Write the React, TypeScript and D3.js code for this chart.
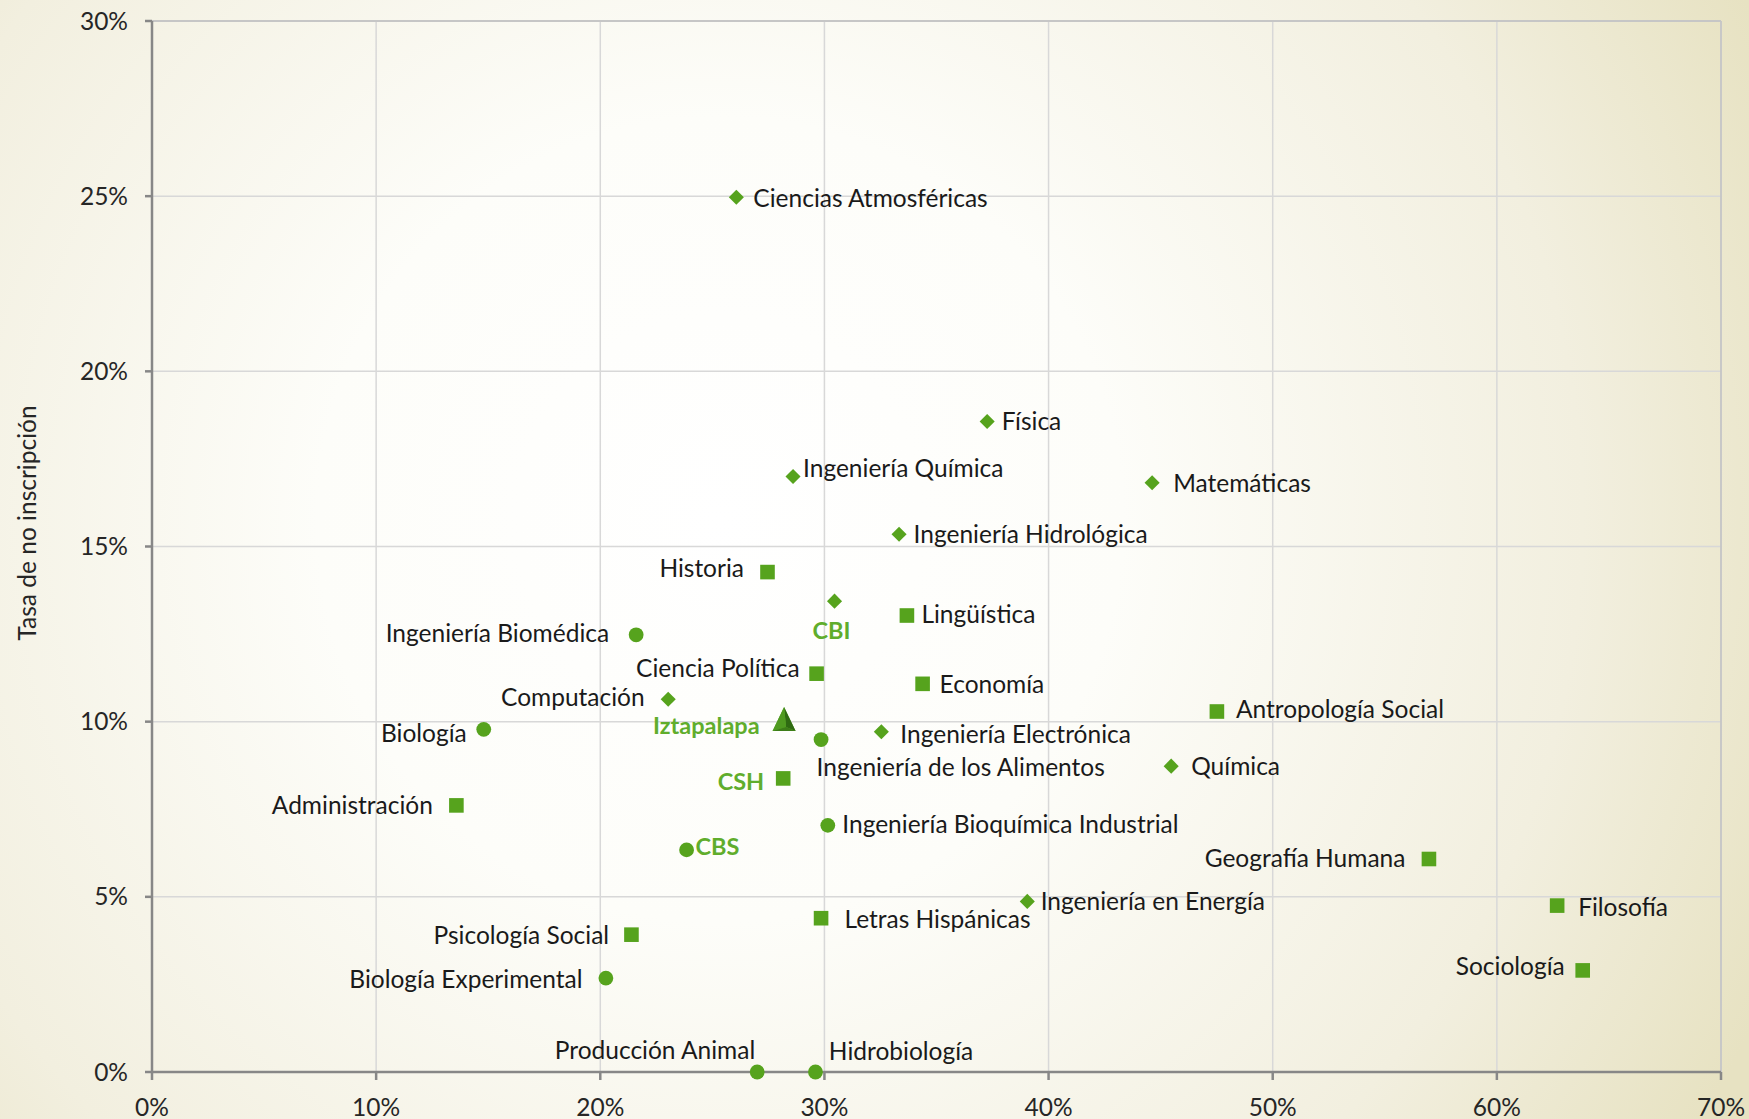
import React from "react";
import * as d3 from "d3";

// ---- Data (percentages) ----
// Circles (CBS)
const circleLabels = [
  "Ingeniería Biomédica", "Biología", "Ingeniería de los Alimentos",
  "Ingeniería Bioquímica Industrial", "CBS", "Biología Experimental",
  "Producción Animal", "Hidrobiología",
];
const circleX = [21.6, 14.8, 29.85, 30.15, 23.85, 20.25, 27.0, 29.6];
const circleY = [12.48, 9.78, 9.49, 7.04, 6.34, 2.68, 0, 0];

// Diamonds (CBI)
const diamondLabels = [
  "Ciencias Atmosféricas", "Física", "Ingeniería Química", "Matemáticas",
  "Ingeniería Hidrológica", "CBI", "Computación", "Ingeniería Electrónica",
  "Química", "Ingeniería en Energía",
];
const diamondX = [26.07, 37.26, 28.6, 44.62, 33.33, 30.45, 23.03, 32.54, 45.47, 39.05];
const diamondY = [24.97, 18.57, 17.0, 16.82, 15.35, 13.44, 10.64, 9.71, 8.73, 4.87];

// Squares (CSH)
const squareLabels = [
  "Historia", "Lingüística", "Ciencia Política", "Economía",
  "Antropología Social", "CSH", "Administración", "Geografía Humana",
  "Filosofía", "Letras Hispánicas", "Psicología Social", "Sociología",
];
const squareX = [27.46, 33.68, 29.65, 34.38, 47.51, 28.16, 13.58, 56.97, 62.69, 29.85, 21.39, 63.83];
const squareY = [14.27, 13.03, 11.37, 11.08, 10.29, 8.38, 7.61, 6.08, 4.75, 4.39, 3.92, 2.9];

// Triangle (Unidad)
const triangleLabels = ["Iztapalapa"];
const triangleX = [28.2];
const triangleY = [10.05];

const divisionLabels = ["CBI", "CSH", "CBS", "Iztapalapa"];

const xTicks = [0, 10, 20, 30, 40, 50, 60, 70];
const yTicks = [0, 5, 10, 15, 20, 25, 30];
const yAxisTitle = "Tasa de no inscripción";

// ---- Label placement (layout only) ----
const labelPlacement: Record<string, [string, number, number]> = {
  "Ciencias Atmosféricas": ["start", 17, 2],
  "Física": ["start", 14.5, 1],
  "Ingeniería Química": ["start", 10, -7],
  "Matemáticas": ["start", 21, 1],
  "Ingeniería Hidrológica": ["start", 14.5, 1],
  "Historia": ["end", -23.5, -3],
  "CBI": ["middle", -3, 30],
  "Lingüística": ["start", 14.5, -1],
  "Ingeniería Biomédica": ["end", -27, -1],
  "Ciencia Política": ["end", -17, -4.5],
  "Economía": ["start", 17, 1],
  "Computación": ["end", -23.5, -1],
  "Antropología Social": ["start", 19, -2],
  "Iztapalapa": ["end", -24.5, 6.5],
  "Biología": ["end", -17, 4.5],
  "Ingeniería Electrónica": ["start", 19, 3.3],
  "Ingeniería de los Alimentos": ["start", -4.5, 28],
  "Química": ["start", 20, 1],
  "CSH": ["end", -19, 4.5],
  "Administración": ["end", -23.5, 1],
  "Ingeniería Bioquímica Industrial": ["start", 14.5, 0],
  "CBS": ["start", 9, -2],
  "Geografía Humana": ["end", -23.5, 0],
  "Ingeniería en Energía": ["start", 13.4, 1],
  "Filosofía": ["start", 21, 2],
  "Letras Hispánicas": ["start", 23.4, 2],
  "Psicología Social": ["end", -22.3, 1],
  "Sociología": ["end", -18, -3.4],
  "Biología Experimental": ["end", -23.4, 2],
  "Producción Animal": ["end", -2, -21],
  "Hidrobiología": ["start", 13.4, -20],
};

const W = 1749;
const H = 1119;
const left = 152, right = 1721, top = 21, bottom = 1072;
const GREEN = "#56a31d";
const DIV_GREEN = "#60ad2c";
const FONT = "Lato, 'Open Sans', sans-serif";
const FS = 24.5;
const LABEL_SHIFT = -1.5;

export default function App() {
  const x = d3.scaleLinear().domain([0, 70]).range([left, right]);
  const y = d3.scaleLinear().domain([0, 30]).range([bottom, top]);

  const fmt = (v: number) => `${v}%`;

  type P = { label: string; x: number; y: number; shape: string };
  const pts: P[] = [];
  circleLabels.forEach((l, i) => pts.push({ label: l, x: circleX[i], y: circleY[i], shape: "circle" }));
  diamondLabels.forEach((l, i) => pts.push({ label: l, x: diamondX[i], y: diamondY[i], shape: "diamond" }));
  squareLabels.forEach((l, i) => pts.push({ label: l, x: squareX[i], y: squareY[i], shape: "square" }));
  triangleLabels.forEach((l, i) => pts.push({ label: l, x: triangleX[i], y: triangleY[i], shape: "triangle" }));

  const diamondPath = d3.symbol().type(d3.symbolDiamond2).size(145)();

  const marker = (p: P) => {
    const cx = x(p.x), cy = y(p.y);
    if (p.shape === "circle") return <circle cx={cx} cy={cy} r={7.4} fill={GREEN} />;
    if (p.shape === "square") return <rect x={cx - 7.3} y={cy - 7.3} width={14.6} height={14.6} fill={GREEN} />;
    if (p.shape === "diamond") return <path d={diamondPath as string} transform={`translate(${cx},${cy})`} fill={GREEN} />;
    return (
      <g transform={`translate(${cx},${cy})`}>
        <path d="M0,-13 L-11.5,11 L11.5,11 Z" fill="#5aa928" />
        <path d="M0,-13 L11.5,11 L2,7 Z" fill="#2f6a12" />
        <path d="M0,-13 L2,7 L-11.5,11 Z" fill="#4f9a20" />
        <path d="M-11.5,11 L2,7 L11.5,11 Z" fill="#3d7d18" />
      </g>
    );
  };

  return (
    <svg width={W} height={H} style={{ position: "absolute", left: 0, top: 0 }} fontFamily={FONT}>
      <defs>
        <radialGradient id="bg" gradientUnits="userSpaceOnUse" cx={720} cy={520} r={1150}>
          <stop offset="0" stopColor="#ffffff" />
          <stop offset="0.35" stopColor="#fdfdf9" />
          <stop offset="0.75" stopColor="#f2efdf" />
          <stop offset="1" stopColor="#e7e2c2" />
        </radialGradient>
      </defs>
      <rect x={0} y={0} width={W} height={H} fill="url(#bg)" />

      {/* gridlines */}
      {xTicks.slice(1).map((t) => (
        <line key={"gx" + t} x1={x(t)} x2={x(t)} y1={top} y2={bottom} stroke="#d8d8d8" strokeWidth={1.5} />
      ))}
      {yTicks.slice(1).map((t) => (
        <line key={"gy" + t} x1={left} x2={right} y1={y(t)} y2={y(t)} stroke="#d8d8d8" strokeWidth={1.5} />
      ))}
      <line x1={left} x2={right} y1={top} y2={top} stroke="#c6c6c6" strokeWidth={1.8} />
      <line x1={right} x2={right} y1={top} y2={bottom} stroke="#c6c6c6" strokeWidth={1.8} />

      {/* axes */}
      <line x1={left} x2={left} y1={top} y2={bottom} stroke="#878787" strokeWidth={2.5} />
      <line x1={left} x2={right} y1={bottom} y2={bottom} stroke="#878787" strokeWidth={2.5} />
      {yTicks.map((t) => (
        <g key={"ty" + t}>
          <line x1={left - 7} x2={left} y1={y(t)} y2={y(t)} stroke="#878787" strokeWidth={2.5} />
          <text x={left - 24} y={y(t) - 1} textAnchor="end" dominantBaseline="central" fontSize={FS} fill="#262626">
            {fmt(t)}
          </text>
        </g>
      ))}
      {xTicks.map((t) => (
        <g key={"tx" + t}>
          <line x1={x(t)} x2={x(t)} y1={bottom} y2={bottom + 8} stroke="#878787" strokeWidth={2.5} />
          <text x={x(t)} y={1106} textAnchor="middle" dominantBaseline="central" fontSize={FS} fill="#262626">
            {fmt(t)}
          </text>
        </g>
      ))}
      <text
        transform={`translate(26,523) rotate(-90)`}
        textAnchor="middle"
        dominantBaseline="central"
        fontSize={FS}
        fill="#262626"
      >
        {yAxisTitle}
      </text>

      {/* markers */}
      {pts.map((p) => (
        <g key={"m" + p.label}>{marker(p)}</g>
      ))}

      {/* labels */}
      {pts.map((p) => {
        const pl = labelPlacement[p.label] || ["start", 14, 0];
        const isDiv = divisionLabels.includes(p.label);
        return (
          <text
            key={"l" + p.label}
            x={x(p.x) + pl[1]}
            y={y(p.y) + pl[2] + LABEL_SHIFT}
            textAnchor={pl[0] as any}
            dominantBaseline="central"
            fontSize={isDiv ? FS - 1 : FS}
            fontWeight={isDiv ? 700 : 400}
            fill={isDiv ? DIV_GREEN : "#1a1a1a"}
          >
            {p.label}
          </text>
        );
      })}
    </svg>
  );
}
